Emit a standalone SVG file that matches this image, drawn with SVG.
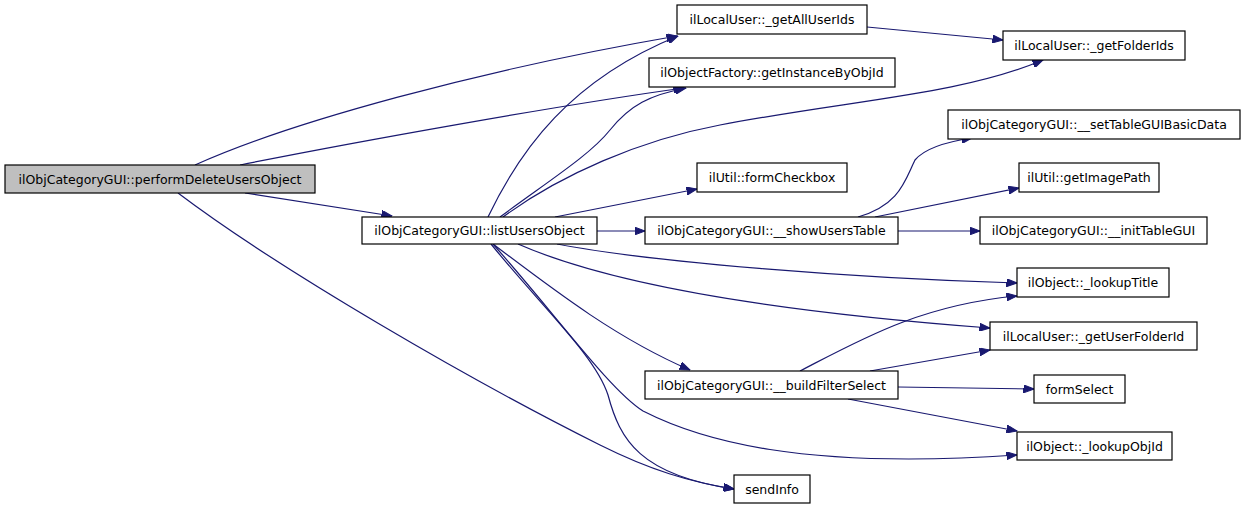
<svg xmlns="http://www.w3.org/2000/svg" width="1245" height="509" viewBox="0 0 1245 509">
<style>
.n rect{fill:#ffffff;stroke:#000000;stroke-width:1.2}
.n text{font-family:"DejaVu Sans",sans-serif;font-size:12.5px;fill:#000000;text-anchor:middle}
#edges path{fill:none;stroke:#191970;stroke-width:1.2;marker-end:url(#arr)}
</style>
<defs>
<marker id="arr" markerUnits="userSpaceOnUse" markerWidth="11" markerHeight="8" refX="10.5" refY="4" orient="auto">
<path d="M0,0 L10.5,4 L0,8 z" fill="#191970" stroke="#191970" stroke-width="1"/>
</marker>
</defs>
<rect width="1245" height="509" fill="#ffffff"/>
<g id="edges">
<path d="M195,165 C290,122 480,70 677,36"/>
<path d="M240,165 C350,143 560,105 684,88"/>
<path d="M245,193 L392,216"/>
<path d="M178,193 C280,270 470,380 600,445 C650,470 690,482 734,489"/>
<path d="M488,217 C520,150 570,80 678,36"/>
<path d="M500,217 C550,180 590,155 610,130 C630,105 650,95 686,88"/>
<path d="M503,217 C560,175 640,140 720,125 C850,100 960,95 1043,60"/>
<path d="M555,217 L697,189"/>
<path d="M597,231 L645,231"/>
<path d="M557,244 C650,262 850,278 1017,283"/>
<path d="M518,244 C600,280 750,310 990,328"/>
<path d="M493,244 C560,295 620,340 690,370"/>
<path d="M493,244 C560,320 610,390 643,411 C700,440 800,470 1017,455"/>
<path d="M491,244 C540,305 595,355 608,395 C620,440 640,475 734,489"/>
<path d="M858,217 C900,205 905,180 915,160 C925,148 945,142 972,138"/>
<path d="M875,217 L1019,188"/>
<path d="M898,231 L980,231"/>
<path d="M800,371 C860,340 920,305 1017,296"/>
<path d="M870,371 L990,350"/>
<path d="M898,387 L1034,389"/>
<path d="M848,399 L1017,431"/>
<path d="M867,27 L1003,40"/>
</g>
<g id="node_perform" class="n"><rect x="5" y="165" width="310" height="28" style="fill:#bfbfbf"/><text x="160" y="183.5">ilObjCategoryGUI::performDeleteUsersObject</text></g>
<g id="node_list" class="n"><rect x="362" y="217" width="235" height="27"/><text x="479.5" y="235">ilObjCategoryGUI::listUsersObject</text></g>
<g id="node_getAllUserIds" class="n"><rect x="677" y="5" width="190" height="29"/><text x="772" y="24">ilLocalUser::_getAllUserIds</text></g>
<g id="node_getFolderIds" class="n"><rect x="1003" y="31" width="182" height="29"/><text x="1094" y="50">ilLocalUser::_getFolderIds</text></g>
<g id="node_getInstance" class="n"><rect x="649" y="58" width="246" height="29"/><text x="772" y="77">ilObjectFactory::getInstanceByObjId</text></g>
<g id="node_setTable" class="n"><rect x="948" y="110" width="292" height="29"/><text x="1094" y="129">ilObjCategoryGUI::__setTableGUIBasicData</text></g>
<g id="node_formCheckbox" class="n"><rect x="697" y="163" width="150" height="29"/><text x="772" y="182">ilUtil::formCheckbox</text></g>
<g id="node_getImagePath" class="n"><rect x="1019" y="163" width="140" height="29"/><text x="1089" y="182">ilUtil::getImagePath</text></g>
<g id="node_showUsersTable" class="n"><rect x="645" y="217" width="253" height="27"/><text x="771.5" y="235">ilObjCategoryGUI::__showUsersTable</text></g>
<g id="node_initTableGUI" class="n"><rect x="980" y="217" width="227" height="27"/><text x="1093.5" y="235">ilObjCategoryGUI::__initTableGUI</text></g>
<g id="node_lookupTitle" class="n"><rect x="1017" y="268" width="152" height="29"/><text x="1093" y="287">ilObject::_lookupTitle</text></g>
<g id="node_getUserFolderId" class="n"><rect x="990" y="322" width="207" height="28"/><text x="1093.5" y="340.5">ilLocalUser::_getUserFolderId</text></g>
<g id="node_buildFilterSelect" class="n"><rect x="645" y="371" width="253" height="28"/><text x="771.5" y="389.5">ilObjCategoryGUI::__buildFilterSelect</text></g>
<g id="node_formSelect" class="n"><rect x="1034" y="375" width="91" height="28"/><text x="1079.5" y="393.5">formSelect</text></g>
<g id="node_lookupObjId" class="n"><rect x="1017" y="432" width="155" height="28"/><text x="1094.5" y="450.5">ilObject::_lookupObjId</text></g>
<g id="node_sendInfo" class="n"><rect x="734" y="475" width="76" height="28"/><text x="772" y="493.5">sendInfo</text></g>
</svg>
